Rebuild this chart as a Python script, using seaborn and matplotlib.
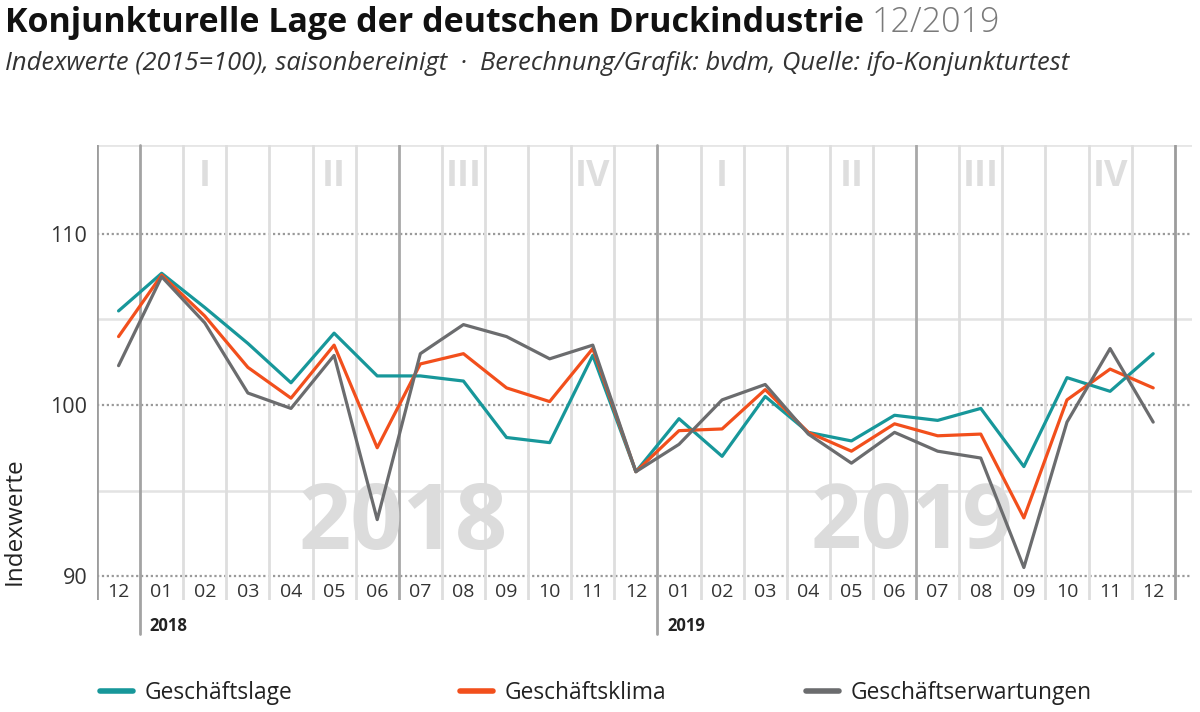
import pandas as pd
import matplotlib
matplotlib.use("Agg")
import matplotlib.pyplot as plt
import seaborn as sns

# Daten (Indexwerte 2015=100), 12/2017 bis 12/2019
monate = ["12", "01", "02", "03", "04", "05", "06", "07", "08", "09", "10", "11", "12",
          "01", "02", "03", "04", "05", "06", "07", "08", "09", "10", "11", "12"]
geschaeftslage = [105.5, 107.7, 105.7, 103.6, 101.3, 104.2, 101.7, 101.7, 101.4, 98.1, 97.8, 102.9, 96.1,
                  99.2, 97.0, 100.5, 98.4, 97.9, 99.4, 99.1, 99.8, 96.4, 101.6, 100.8, 103.0]
geschaeftsklima = [104.0, 107.6, 105.2, 102.2, 100.4, 103.5, 97.5, 102.4, 103.0, 101.0, 100.2, 103.3, 96.1,
                   98.5, 98.6, 100.9, 98.4, 97.3, 98.9, 98.2, 98.3, 93.4, 100.3, 102.1, 101.0]
geschaeftserwartungen = [102.3, 107.5, 104.8, 100.7, 99.8, 102.9, 93.3, 103.0, 104.7, 104.0, 102.7, 103.5, 96.1,
                         97.7, 100.3, 101.2, 98.3, 96.6, 98.4, 97.3, 96.9, 90.5, 99.0, 103.3, 99.0]
serien = ["Geschäftslage", "Geschäftsklima", "Geschäftserwartungen"]
farben = ["#17979a", "#f24f1c", "#6b6c6e"]
quartale = ["I", "II", "III", "IV", "I", "II", "III", "IV"]
jahre = ["2018", "2019"]

n = len(monate)
df = pd.DataFrame({
    "idx": list(range(n)) * 3,
    "wert": geschaeftslage + geschaeftsklima + geschaeftserwartungen,
    "serie": [serien[0]] * n + [serien[1]] * n + [serien[2]] * n,
})

sns.set_theme(style="white")
plt.rcParams["font.family"] = ["Open Sans", "DejaVu Sans"]

fig = plt.figure(figsize=(12, 7.12), dpi=100)
ax = fig.add_axes([97 / 1200, 112 / 712, 1095 / 1200, 455 / 712])
ymin, ymax = 88.6, 115.2
ax.set_xlim(-0.5, 24.9)
ax.set_ylim(ymin, ymax)
for s in ax.spines.values():
    s.set_visible(False)

# Gitter
ax.axhline(ymax, color="#e6e6e6", lw=2, zorder=1)
for y in [95, 105]:
    ax.axhline(y, color="#e3e3e3", lw=1.8, zorder=1)
for y in [90, 100, 110]:
    ax.axhline(y, color="#9a9a9a", lw=1.6, ls=(0, (1, 1.2)), zorder=1)
for i in range(-1, n):
    x = i + 0.5
    if x in (-0.5, 24.5):
        ax.axvline(x, color="#9c9c9c", lw=2, zorder=1)
    elif x in (0.5, 12.5):
        ax.plot([x, x], [86.6, ymax], color="#a3a3a3", lw=2, zorder=1, clip_on=False)
    elif x in (6.5, 18.5):
        ax.axvline(x, color="#a8a8a8", lw=2, zorder=1)
    else:
        ax.axvline(x, color="#dedede", lw=2, zorder=1)

# Wasserzeichen und Quartale
ax.text(6.6, 93.0, jahre[0], fontsize=66, fontweight="bold", color="#dcdcdc",
        ha="center", va="center", zorder=2)
ax.text(18.4, 93.0, jahre[1], fontsize=64, fontweight="bold", color="#dcdcdc",
        ha="center", va="center", zorder=2)
for k, q in enumerate(quartale):
    ax.text(2 + 3 * k, 113.3, q, fontsize=26, fontweight="bold", color="#dedede",
            ha="center", va="center", zorder=2)

# Linien
sns.lineplot(data=df, x="idx", y="wert", hue="serie", palette=farben, lw=2.3,
             ax=ax, legend=False, zorder=5)

# Achsenbeschriftung
for i, m in enumerate(monate):
    ax.text(i, 89.05, m, fontsize=14, color="#333333", ha="center", va="center")
ax.text(0.72, 87.1, jahre[0], fontsize=12, fontweight="bold", color="#222222",
        ha="left", va="center", clip_on=False)
ax.text(12.72, 87.1, jahre[1], fontsize=12, fontweight="bold", color="#222222",
        ha="left", va="center", clip_on=False)
ax.set_xticks([])
ax.set_yticks([90, 100, 110])
ax.set_yticklabels(["90", "100", "110"], fontsize=15.5, color="#333333")
ax.tick_params(axis="y", length=0, pad=7)
ax.set_xlabel("")
ax.set_ylabel("")
fig.text(15 / 1200, 1 - 521 / 712, "Indexwerte", rotation=90, fontsize=17.5,
         color="#222222", ha="center", va="center")

# Titel
t = fig.text(5 / 1200, 1 - 32 / 712, "Konjunkturelle Lage der deutschen Druckindustrie",
             fontsize=24.5, fontweight="bold", color="#111111", va="baseline")
fig.canvas.draw()
bb = t.get_window_extent()
fig.text((bb.x1 + 8) / 1200, 1 - 32 / 712, "12/2019", fontsize=24.5, fontweight="light",
         color="#7a7a7a", va="baseline")
fig.text(5 / 1200, 1 - 63 / 712,
         "Indexwerte (2015=100), saisonbereinigt  ·  Berechnung/Grafik: bvdm, Quelle: ifo-Konjunkturtest",
         fontsize=18.4, style="italic", color="#333333", va="center")

# Legende
for lab, col, xpos in zip(serien, farben, [100, 460, 806]):
    h = plt.Line2D([], [], color=col, lw=4)
    fig.legend([h], [lab], loc="center left", bbox_to_anchor=(xpos / 1200, 1 - 693 / 712),
               frameon=False, fontsize=16.4, handlelength=1.45, handletextpad=0.5,
               borderaxespad=0, borderpad=0, labelcolor="#222222")

fig.savefig("out.png", dpi=100)
